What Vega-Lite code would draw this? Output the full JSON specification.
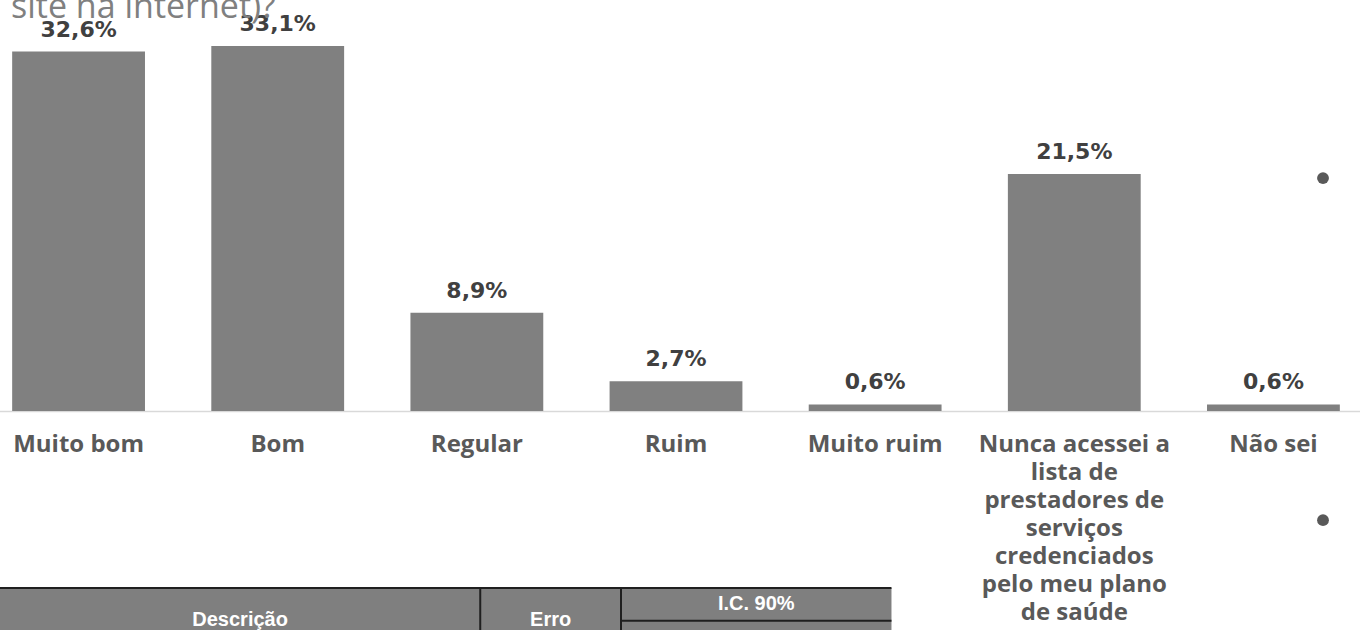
{
  "$schema": "https://vega.github.io/schema/vega-lite/v6.json",
  "width": 1360,
  "height": 630,
  "padding": 0,
  "autosize": {"type": "none"},
  "background": "white",
  "config": {
    "view": {"stroke": null}
  },
  "layer": [
    {
      "data": {
        "values": [
          {"categoria": "Muito bom", "pct": 32.6},
          {"categoria": "Bom", "pct": 33.1},
          {"categoria": "Regular", "pct": 8.9},
          {"categoria": "Ruim", "pct": 2.7},
          {"categoria": "Muito ruim", "pct": 0.6},
          {"categoria": "Nunca acessei a lista de prestadores de serviços credenciados pelo meu plano de saúde", "pct": 21.5},
          {"categoria": "Não sei", "pct": 0.6}
        ]
      },
      "transform": [
        {"calculate": "replace(format(datum.pct, '.1f'), '.', ',') + '%'", "as": "rotulo"}
      ],
      "encoding": {
        "x": {
          "field": "categoria",
          "type": "nominal",
          "sort": null,
          "scale": {"range": [-21, 1373], "paddingInner": 0.333, "paddingOuter": 0.1665},
          "axis": {
            "title": null,
            "offset": -219,
            "labelAngle": 0,
            "ticks": false,
            "tickSize": 0,
            "labelPadding": 21,
            "labelFont": "Open Sans",
            "labelFontSize": 24,
            "labelFontWeight": "bold",
            "labelColor": "#595959",
            "labelLineHeight": 28,
            "labelLimit": 0,
            "labelOverlap": false,
            "labelBound": false,
            "labelFlush": false,
            "domainColor": "#d9d9d9",
            "domainWidth": 1.5,
            "grid": false,
            "labelExpr": "datum.value == 'Nunca acessei a lista de prestadores de serviços credenciados pelo meu plano de saúde' ? ['Nunca acessei a', 'lista de', 'prestadores de', 'serviços', 'credenciados', 'pelo meu plano', 'de saúde'] : datum.value"
          }
        },
        "y": {
          "field": "pct",
          "type": "quantitative",
          "scale": {"domain": [0, 33.1], "range": [411, 46], "nice": false, "zero": true},
          "axis": null
        }
      },
      "layer": [
        {"mark": {"type": "bar", "color": "#808080"}},
        {
          "mark": {
            "type": "text",
            "baseline": "alphabetic",
            "dy": -15,
            "font": "DejaVu Sans",
            "fontSize": 22,
            "fontWeight": "bold",
            "color": "#404040"
          },
          "encoding": {"text": {"field": "rotulo"}}
        }
      ]
    },
    {
      "layer": [
        {
          "data": {"values": [{"x0": 0, "x1": 6.46, "y0": 0, "y1": 2}]},
          "mark": {"type": "rect", "color": "#7f7f7f"},
          "encoding": {
            "x": {"field": "x0", "type": "quantitative", "scale": {"domain": [0, 10], "range": [0, 1380]}, "axis": null},
            "x2": {"field": "x1"},
            "y": {"field": "y0", "type": "quantitative", "scale": {"domain": [0, 1], "range": [588, 620]}, "axis": null},
            "y2": {"field": "y1"}
          }
        },
        {
          "data": {
            "values": [
              {"x0": 0, "x1": 6.46, "y0": 0, "y1": 0},
              {"x0": 3.48, "x1": 3.48, "y0": 0, "y1": 2},
              {"x0": 4.5, "x1": 4.5, "y0": 0, "y1": 2},
              {"x0": 4.5, "x1": 6.46, "y0": 1.02, "y1": 1.02}
            ]
          },
          "mark": {"type": "rule", "color": "#1f1f1f", "strokeWidth": 2},
          "encoding": {
            "x": {"field": "x0", "type": "quantitative", "axis": null},
            "x2": {"field": "x1"},
            "y": {"field": "y0", "type": "quantitative", "axis": null},
            "y2": {"field": "y1"}
          }
        },
        {
          "data": {
            "values": [
              {"texto": "Descrição", "cx": 1.74, "cy": 1.0},
              {"texto": "Erro", "cx": 3.99, "cy": 1.0},
              {"texto": "I.C. 90%", "cx": 5.48, "cy": 0.5},
              {"texto": "LI", "cx": 4.95, "cy": 1.6},
              {"texto": "LS", "cx": 6.02, "cy": 1.6}
            ]
          },
          "mark": {
            "type": "text",
            "align": "center",
            "baseline": "middle",
            "font": "Liberation Sans",
            "fontSize": 20,
            "fontWeight": "bold",
            "color": "white"
          },
          "encoding": {
            "x": {"field": "cx", "type": "quantitative", "axis": null},
            "y": {"field": "cy", "type": "quantitative", "axis": null},
            "text": {"field": "texto"}
          }
        },
        {
          "data": {"values": [{"texto": "site na internet)?", "tx": 0.08, "ty": -17.81}]},
          "mark": {
            "type": "text",
            "align": "left",
            "baseline": "alphabetic",
            "font": "Open Sans",
            "fontSize": 34,
            "color": "#808080"
          },
          "encoding": {
            "x": {"field": "tx", "type": "quantitative", "axis": null},
            "y": {"field": "ty", "type": "quantitative", "axis": null},
            "text": {"field": "texto"}
          }
        },
        {
          "data": {"values": [{"bx": 9.587, "by": -12.81}, {"bx": 9.587, "by": -2.12}]},
          "mark": {"type": "point", "filled": true, "color": "#595959", "size": 140, "opacity": 1},
          "encoding": {
            "x": {"field": "bx", "type": "quantitative", "axis": null},
            "y": {"field": "by", "type": "quantitative", "axis": null}
          }
        }
      ]
    }
  ],
  "resolve": {"scale": {"x": "independent", "y": "independent"}}
}
